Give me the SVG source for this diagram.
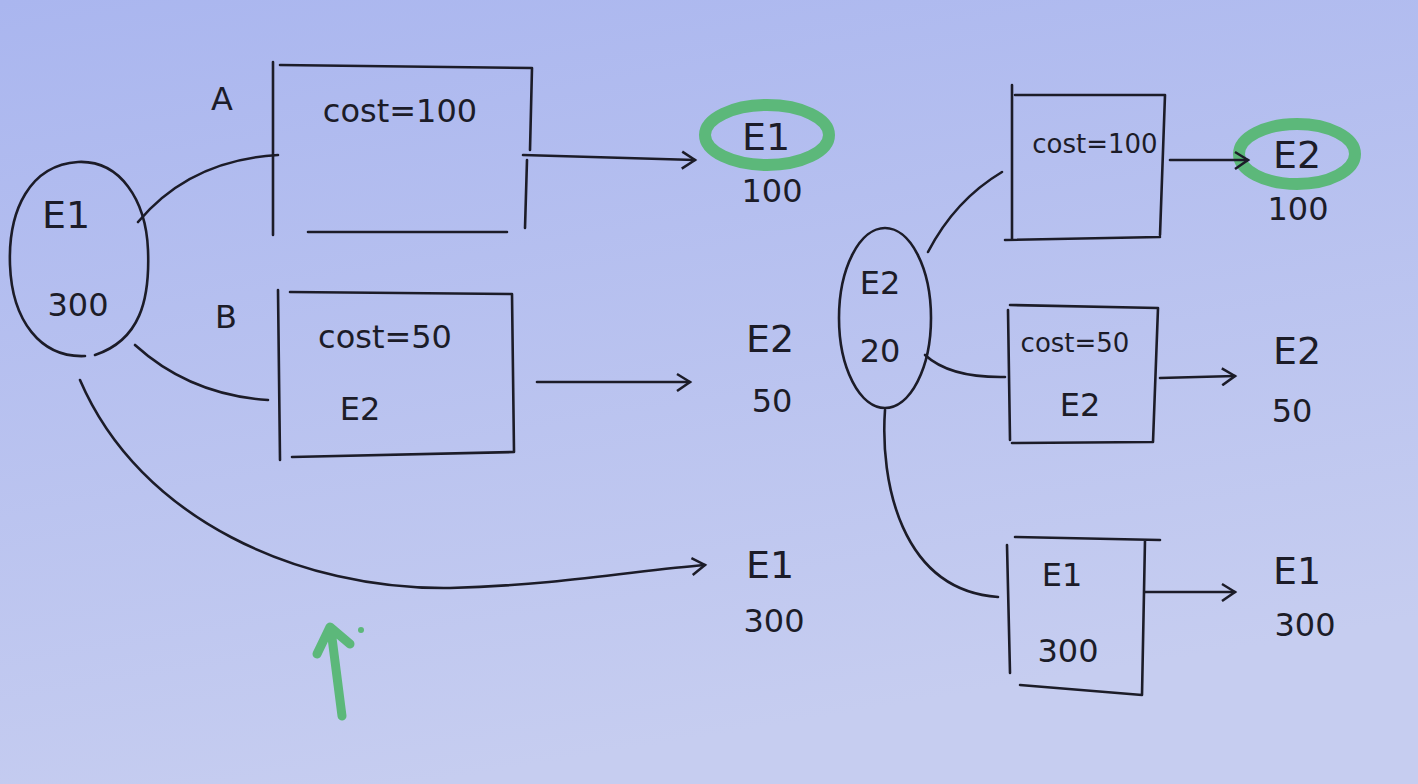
<svg xmlns="http://www.w3.org/2000/svg" width="1418" height="784" viewBox="0 0 1418 784">
<defs>
<linearGradient id="bg" x1="0" y1="0" x2="0.3" y2="1">
<stop offset="0" stop-color="#aab6ef"/>
<stop offset="1" stop-color="#c6cdf0"/>
</linearGradient>
<marker id="ah" viewBox="0 0 20 20" refX="17" refY="10" markerWidth="20" markerHeight="20" markerUnits="userSpaceOnUse" orient="auto">
<path d="M4,2 L17,10 L4,19" fill="none" stroke="#1c1c28" stroke-width="2.5"/>
</marker>
</defs>
<style>
.ln{fill:none;stroke:#1c1c28;stroke-width:2.6;stroke-linecap:round}
.t{font-family:"DejaVu Sans","Liberation Sans",sans-serif;fill:#1c1c28;text-anchor:middle}
.big{font-size:38px}
.mid{font-size:32px}
.sm{font-size:26px}
.hl{fill:none;stroke:#5cb87a;stroke-width:12}
.g{fill:none;stroke:#5cb87a;stroke-width:9;stroke-linecap:round;stroke-linejoin:round}
</style>
<rect width="1418" height="784" fill="url(#bg)"/>

<g id="node-e1-start">
<path class="ln" d="M95,355 C140,340 150,300 148,250 C146,200 120,160 78,162 C30,165 8,210 10,265 C12,320 40,358 85,356"/>
<text class="t big" x="66" y="228">E1</text>
<text class="t mid" x="78" y="316">300</text>
</g>

<g id="node-a">
<text class="t mid" x="222" y="110">A</text>
<path class="ln" d="M273,62 L273,235 M280,65 L532,68 M532,68 L530,150 M527,160 L525,228 M308,232 L507,232"/>
<text class="t mid" x="400" y="122">cost=100</text>
</g>

<g id="node-b">
<text class="t mid" x="226" y="328">B</text>
<path class="ln" d="M278,290 L280,460 M290,292 L512,294 M512,294 L514,452 M292,457 L514,452"/>
<text class="t mid" x="385" y="348">cost=50</text>
<text class="t mid" x="360" y="420">E2</text>
</g>

<g id="out-e1-100">
<ellipse class="hl" cx="767" cy="135" rx="62" ry="30"/>
<text class="t big" x="766" y="150">E1</text>
<text class="t mid" x="772" y="202">100</text>
</g>
<g id="out-e2-50">
<text class="t big" x="770" y="352">E2</text>
<text class="t mid" x="772" y="412">50</text>
</g>
<g id="out-e1-300">
<text class="t big" x="770" y="578">E1</text>
<text class="t mid" x="774" y="632">300</text>
</g>

<g id="node-e2-start">
<ellipse class="ln" cx="885" cy="318" rx="46" ry="90"/>
<text class="t mid" x="880" y="294">E2</text>
<text class="t mid" x="880" y="362">20</text>
</g>

<g id="node-r1">
<path class="ln" d="M1012,85 L1012,240 M1015,95 L1165,95 M1165,95 L1160,235 M1005,240 L1160,237"/>
<text class="t sm" x="1095" y="153">cost=100</text>
</g>
<g id="node-r2">
<path class="ln" d="M1008,310 L1010,440 M1010,305 L1158,308 M1158,308 L1153,442 M1012,443 L1153,442"/>
<text class="t sm" x="1075" y="352">cost=50</text>
<text class="t mid" x="1080" y="416">E2</text>
</g>
<g id="node-r3">
<path class="ln" d="M1007,545 L1010,673 M1015,537 L1160,540 M1145,540 L1142,695 M1020,685 L1142,695"/>
<text class="t mid" x="1062" y="586">E1</text>
<text class="t mid" x="1068" y="662">300</text>
</g>

<g id="out-e2-100">
<ellipse class="hl" cx="1297" cy="154" rx="58" ry="30"/>
<text class="t big" x="1297" y="168">E2</text>
<text class="t mid" x="1298" y="220">100</text>
</g>
<g id="out-e2-50r">
<text class="t big" x="1297" y="364">E2</text>
<text class="t mid" x="1292" y="422">50</text>
</g>
<g id="out-e1-300r">
<text class="t big" x="1297" y="584">E1</text>
<text class="t mid" x="1305" y="636">300</text>
</g>

<g id="connectors">
<path class="ln" d="M138,222 Q190,160 278,155"/>
<path class="ln" d="M135,345 Q190,395 268,400"/>
<path class="ln" d="M80,380 C140,520 300,590 450,588 C560,585 640,570 705,565" marker-end="url(#ah)"/>
<path class="ln" d="M523,155 L695,160" marker-end="url(#ah)"/>
<path class="ln" d="M537,382 L690,382" marker-end="url(#ah)"/>
<path class="ln" d="M928,252 Q955,200 1002,172"/>
<path class="ln" d="M925,355 Q950,378 1005,377"/>
<path class="ln" d="M885,410 C880,480 900,590 998,597"/>
<path class="ln" d="M1170,160 L1248,160" marker-end="url(#ah)"/>
<path class="ln" d="M1160,378 L1235,376" marker-end="url(#ah)"/>
<path class="ln" d="M1145,592 L1235,592" marker-end="url(#ah)"/>
<path class="g" d="M342,716 L331,630 M317,654 L330,627 L350,644"/>
<circle cx="361" cy="630" r="3" fill="#5cb87a"/>
</g>
</svg>
